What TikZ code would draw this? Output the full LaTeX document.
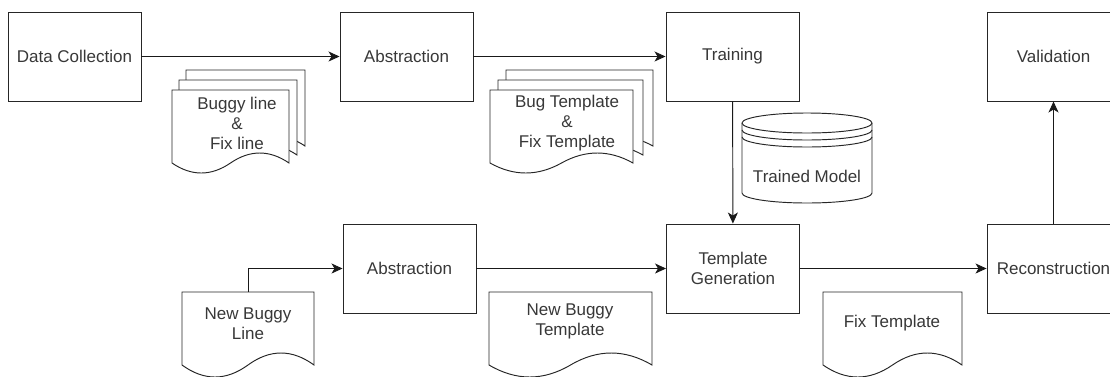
\documentclass[tikz,border=0pt]{standalone}
\usepackage{fontspec}
\setmainfont{Liberation Sans}
\usetikzlibrary{arrows.meta,positioning}

% 波形の下辺をもつ文書記号 (x0, 上辺, x1, 下端, 振幅)
\newcommand{\wavydoc}[5]{%
  \pgfmathsetmacro{\dw}{(#3-#1)/6}%
  \pgfmathsetmacro{\dm}{(#1+#3)/2}%
  \pgfmathsetmacro{\dh}{4*#5/3}%
  \filldraw[docline] (#1,#2) -- (#3,#2) -- (#3,#4)
    .. controls ({#3-\dw},{#4-\dh}) and ({\dm+\dw},{#4-\dh}) .. (\dm,#4)
    .. controls ({\dm-\dw},{#4+\dh}) and ({#1+\dw},{#4+\dh}) .. (#1,#4) -- cycle;%
}

\begin{document}
\begin{tikzpicture}[
  x=1pt, y=-1pt,
  >={Stealth[length=11pt,width=10pt,inset=3pt]},
  every node/.style={font=\fontsize{17}{20}\selectfont, text=black!78},
  block/.style={draw=black!85, line width=0.95pt, fill=white,
    minimum width=133pt, minimum height=89pt, align=center},
  docline/.style={draw=black!85, line width=0.95pt, fill=white},
  flow/.style={->, draw=black!90, line width=0.95pt}
]
\clip (0,0) rectangle (1110,376);

% 上段の処理
\node[block] (dc)    at (74.5,56.5)   {Data Collection};
\node[block] (abs1)  at (406.5,56.5)  {Abstraction};
\node[block] (train) at (732.5,56.5)  {Training};
\node[block] (valid) at (1053.5,56.5) {Validation};

% 下段の処理
\node[block] (abs2)  at (409.5,268.5) {Abstraction};
\node[block] (tgen)  at (733,268.5)   {Template\\Generation};
\node[block] (recon) at (1053.5,268.5) {Reconstruction};

% 複数文書 (学習データ)
\wavydoc{186}{70}{305}{146}{10}
\wavydoc{179}{80}{297}{155}{10}
\wavydoc{172}{90}{289}{163}{10}
\node[align=center] (pairs) at (237,123) {Buggy line\\\&\\Fix line};

\wavydoc{506}{70}{653}{146}{10}
\wavydoc{498}{80}{643}{155}{10}
\wavydoc{490}{90}{633}{163}{10}
\node[align=center] (tmpls) at (567,123) {Bug Template\\\&\\Fix Template};

% 学習済みモデル
\filldraw[docline] (742,123) -- (742,193)
  arc[start angle=180, end angle=360, x radius=65pt, y radius=10pt]
  -- (872,123)
  arc[start angle=0, end angle=180, x radius=65pt, y radius=10pt] -- cycle;
\foreach \yy in {123,130,137}
  \draw[docline, fill=none] (742,\yy)
    arc[start angle=180, end angle=360, x radius=65pt, y radius=10pt];
\node (model) at (807,176) {Trained Model};

% 入力と中間の文書
\wavydoc{182}{292}{314}{365}{12}
\node[align=center] (newline) at (248,324) {New Buggy\\Line};
\coordinate (nbl) at (248,292);

\wavydoc{489}{292}{652}{365}{12}
\node[align=center] (newtmpl) at (570,321) {New Buggy\\Template};

\wavydoc{823}{292}{962}{365}{12}
\node (fixtmpl) at (892,323) {Fix Template};

% 矢印
\draw[flow] (dc) -- (abs1);
\draw[flow] (abs1) -- (train);
\draw[flow] (train) -- (tgen);
\draw[flow] (nbl) |- (abs2.west);
\draw[flow] (abs2) -- (tgen);
\draw[flow] (tgen) -- (recon);
\draw[flow] (recon) -- (valid);
\end{tikzpicture}
\end{document}
